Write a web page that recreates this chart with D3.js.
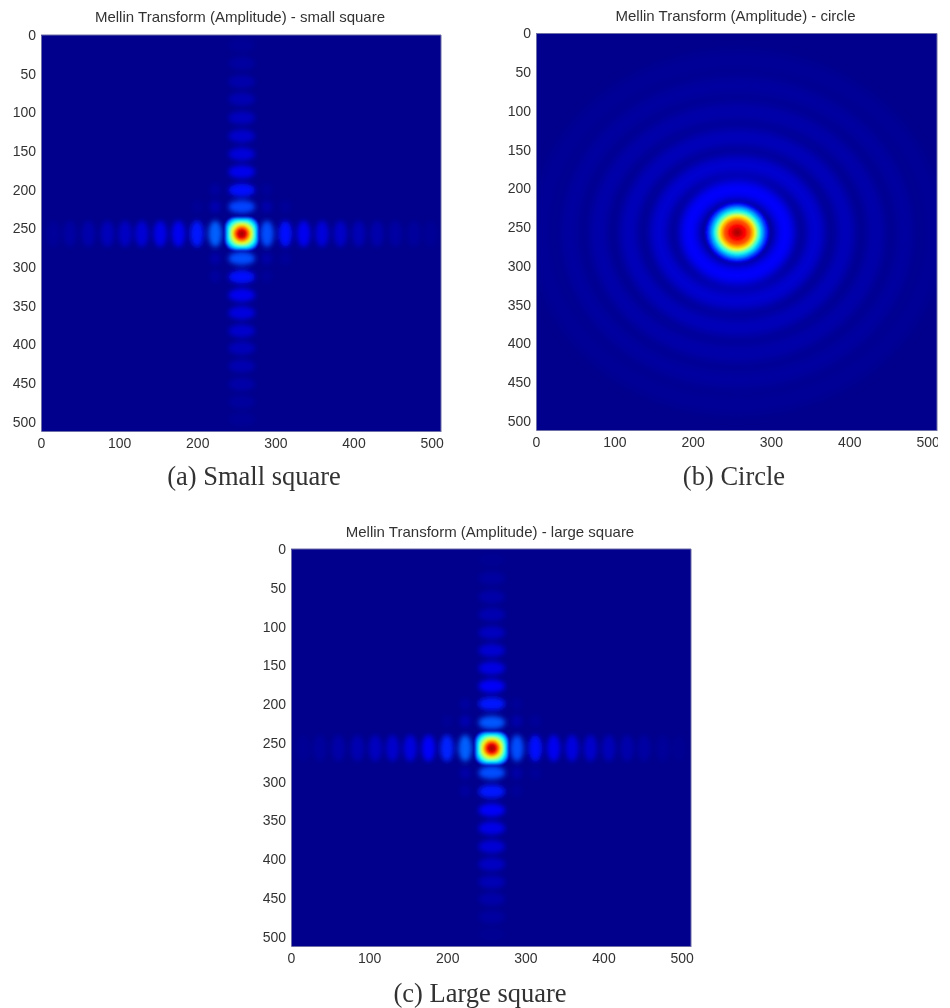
<!DOCTYPE html>
<html>
<head>
<meta charset="utf-8">
<script src="https://cdnjs.cloudflare.com/ajax/libs/d3/7.8.5/d3.min.js"></script>
<style>
    body { margin: 0; background: #fff; }
    text { fill: #333; }
</style>
</head>
<body>
<div id="graph"></div>
<script>
// axis ticks shared by the three panels
var xTicks = [0, 100, 200, 300, 400, 500];
var yTicks = [0, 50, 100, 150, 200, 250, 300, 350, 400, 450, 500];

// small square: bright lobes along the two arms (pixel index, amplitude 0-1)
var smallArmX = [15.8, 37, 60.7, 85, 107.7, 129, 152.6, 176, 199.6, 223, 289.3, 312.8, 336.3, 359.8, 383.3, 406.8, 430.3, 453.8, 477.3, 498.7];
var smallArmXAmp = [0.015, 0.025, 0.035, 0.05, 0.06, 0.08, 0.1, 0.11, 0.15, 0.22, 0.2, 0.135, 0.11, 0.085, 0.065, 0.045, 0.035, 0.025, 0.018, 0.012];
var smallArmY = [13, 36.6, 60.4, 82.8, 107, 130.7, 154, 176.8, 200.5, 222, 288.9, 312.7, 336.4, 359.3, 382.5, 404.9, 428, 451.5, 474.3, 496.8];
var smallArmYAmp = [0.012, 0.022, 0.035, 0.042, 0.055, 0.07, 0.085, 0.105, 0.135, 0.19, 0.2, 0.135, 0.11, 0.09, 0.07, 0.05, 0.04, 0.03, 0.02, 0.012];

// large square
var largeArmX = [15.8, 37, 60.7, 85, 108, 130, 152.6, 176, 199.6, 223, 289.3, 312.8, 336.3, 359.8, 383.3, 406.8, 430.3, 452, 476, 497];
var largeArmXAmp = [0.01, 0.02, 0.03, 0.04, 0.055, 0.07, 0.09, 0.12, 0.16, 0.22, 0.2, 0.14, 0.11, 0.09, 0.07, 0.05, 0.035, 0.025, 0.015, 0.008];
var largeArmY = [14, 37.5, 61.7, 84.5, 107.8, 130.7, 153.6, 176.8, 199.6, 223.8, 288.5, 312.7, 336.7, 360, 383.8, 406.6, 429.5, 451.5, 474.4, 497];
var largeArmYAmp = [0.008, 0.022, 0.032, 0.04, 0.055, 0.075, 0.095, 0.12, 0.15, 0.21, 0.2, 0.15, 0.12, 0.1, 0.08, 0.06, 0.045, 0.032, 0.022, 0.008];

// faint lobes off the arms, near the centre
var offX = [223, 289, 313, 223, 289, 313, 200, 223, 289, 223, 289];
var offY = [222, 222, 222, 289, 289, 289, 222, 200, 200, 312, 312];
var offAmp = [0.04, 0.035, 0.015, 0.03, 0.03, 0.015, 0.012, 0.022, 0.015, 0.022, 0.015];

// central peak of the squares, as nested contours
var squareLevels = [0.1, 0.18, 0.28, 0.38, 0.5, 0.6, 0.72, 0.85, 0.92, 0.96];
var squareHalf = [22, 21, 20, 18, 15.5, 13.5, 11, 8.5, 5.5, 3];
var squareCorner = [0.6, 0.6, 0.65, 0.7, 0.8, 0.9, 1, 1, 1, 1];

// circle: central peak contours and the rings around it
var circleLevels = [0.12, 0.2, 0.3, 0.4, 0.5, 0.62, 0.7, 0.8, 0.87, 0.93, 0.96];
var circleHalfX = [41, 37, 33.5, 30, 27, 24, 21.5, 18, 13, 7, 3];
var circleHalfY = [39, 35.5, 32.5, 29, 25.5, 23, 20.5, 17, 12, 6.5, 3];
var ringRadiusX = [250, 214, 177, 138.5, 100, 61.5];
var ringRadiusY = [222.5, 190, 156.5, 123, 88, 55.6];
var ringAmp = [0.012, 0.022, 0.033, 0.05, 0.075, 0.13];

function main() {

    var svg = d3.select("#graph")
        .append("svg")
        .attr("width", 950)
        .attr("height", 1008);

    var defs = svg.append("defs");
    function blur(id, std) {
        defs.append("filter").attr("id", id)
            .attr("x", "-30%").attr("y", "-30%").attr("width", "160%").attr("height", "160%")
            .attr("filterUnits", "objectBoundingBox")
            .append("feGaussianBlur").attr("stdDeviation", std);
    }
    blur("soft", 1.2);
    blur("lobe", 2.6);
    blur("ring", 5);
    blur("txt", 0.35);

    // jet colormap
    var color = d3.scaleLinear()
        .domain([0, 0.125, 0.375, 0.625, 0.875, 1])
        .range(["#00008c", "#0000ff", "#00ffff", "#ffff00", "#ff0000", "#800000"]);

    var panels = [
        { id: "a", title: "Mellin Transform (Amplitude) - small square", caption: "(a) Small square", left: 41, right: 441, top: 35, bottom: 431, titleY: 22, captionX: 254, captionY: 485,
          armX: smallArmX, armXAmp: smallArmXAmp, armY: smallArmY, armYAmp: smallArmYAmp },
        { id: "b", title: "Mellin Transform (Amplitude) - circle", caption: "(b) Circle", left: 536, right: 937, top: 33.5, bottom: 430, titleY: 21, captionX: 734, captionY: 485, circle: true },
        { id: "c", title: "Mellin Transform (Amplitude) - large square", caption: "(c) Large square", left: 291, right: 691, top: 549, bottom: 946, titleY: 537, captionX: 480, captionY: 1002,
          armX: largeArmX, armXAmp: largeArmXAmp, armY: largeArmY, armYAmp: largeArmYAmp }
    ];

    panels.forEach(function (p) {
        var x = d3.scaleLinear().domain([0, 512]).range([p.left, p.right]);
        var y = d3.scaleLinear().domain([0, 512]).range([p.top, p.bottom]);
        var cx = 257, cy = 257;

        defs.append("clipPath").attr("id", "clip-" + p.id)
            .append("rect")
            .attr("x", p.left).attr("y", p.top)
            .attr("width", p.right - p.left).attr("height", p.bottom - p.top);

        var plot = svg.append("g").attr("clip-path", "url(#clip-" + p.id + ")");

        // background of the image
        plot.append("rect")
            .attr("x", x(0)).attr("y", y(0))
            .attr("width", x(512) - x(0)).attr("height", y(512) - y(0))
            .attr("fill", color(0));

        if (p.circle) {
            plot.append("g").attr("filter", "url(#ring)")
                .selectAll("ellipse")
                .data(ringAmp)
                .enter()
                .append("ellipse")
                .attr("cx", x(cx)).attr("cy", y(cy))
                .attr("rx", function (d, i) { return x(ringRadiusX[i]) - x(0); })
                .attr("ry", function (d, i) { return y(ringRadiusY[i]) - y(0); })
                .attr("fill", "none")
                .attr("stroke", function (d) { return color(d); })
                .attr("stroke-width", 19);
            peak(plot, x, y, cx, cy, circleLevels, circleHalfX, circleHalfY, circleLevels.map(function () { return 1; }));
        } else {
            var lobes = plot.append("g").attr("filter", "url(#lobe)");

            // off-arm lobes first, arms on top
            lobes.selectAll(".off")
                .data(offAmp)
                .enter()
                .append("ellipse")
                .attr("class", "off")
                .attr("cx", function (d, i) { return x(offX[i]); })
                .attr("cy", function (d, i) { return y(offY[i]); })
                .attr("rx", x(7) - x(0))
                .attr("ry", y(8) - y(0))
                .attr("fill", function (d) { return color(d); });

            lobes.selectAll(".armx")
                .data(p.armXAmp)
                .enter()
                .append("ellipse")
                .attr("class", "armx")
                .attr("cx", function (d, i) { return x(p.armX[i]); })
                .attr("cy", y(cy))
                .attr("rx", x(8.5) - x(0))
                .attr("ry", y(17) - y(0))
                .attr("fill", function (d) { return color(d); });

            lobes.selectAll(".army")
                .data(p.armYAmp)
                .enter()
                .append("ellipse")
                .attr("class", "army")
                .attr("cx", x(cx))
                .attr("cy", function (d, i) { return y(p.armY[i]); })
                .attr("rx", x(17) - x(0))
                .attr("ry", y(8.5) - y(0))
                .attr("fill", function (d) { return color(d); });

            peak(plot, x, y, cx, cy, squareLevels, squareHalf, squareHalf, squareCorner);
        }

        // axes
        var yAxis = svg.append("g")
            .attr("transform", "translate(" + p.left + ",0)")
            .call(d3.axisLeft(y).tickValues(yTicks).tickSize(0).tickPadding(5));
        var xAxis = svg.append("g")
            .attr("transform", "translate(0," + p.bottom + ")")
            .call(d3.axisBottom(x).tickValues(xTicks).tickSize(0).tickPadding(7));
        [xAxis, yAxis].forEach(function (ax) {
            ax.select(".domain").attr("stroke", "#6f6fa8");
            ax.selectAll("text")
                .attr("filter", "url(#txt)")
                .style("font-family", "'Liberation Sans', Arial, sans-serif")
                .style("font-size", "14px");
        });

        // the right panel's last label runs off the picture crop
        if (p.circle) {
            defs.append("clipPath").attr("id", "clip-xaxis")
                .append("rect").attr("x", p.left - 20).attr("y", 0).attr("width", p.right - p.left + 21).attr("height", 1008);
            svg.append("g").attr("clip-path", "url(#clip-xaxis)").node().appendChild(xAxis.node());
        }

        // frame on the top and right
        svg.append("path")
            .attr("d", "M" + x(0) + "," + y(0) + "H" + x(512) + "V" + y(512))
            .attr("fill", "none")
            .attr("stroke", "#6f6fa8");

        svg.append("text")
            .attr("x", (p.left + p.right) / 2 - 1)
            .attr("y", p.titleY)
            .attr("text-anchor", "middle")
            .attr("filter", "url(#txt)")
            .style("font-family", "'Liberation Sans', Arial, sans-serif")
            .style("font-size", "15px")
            .text(p.title);

        svg.append("text")
            .attr("x", p.captionX)
            .attr("y", p.captionY)
            .attr("text-anchor", "middle")
            .attr("filter", "url(#txt)")
            .style("font-family", "'Liberation Serif', 'Times New Roman', serif")
            .style("font-size", "26.5px")
            .text(p.caption);
    });

    // central peak: nested rounded rectangles, outermost level first
    function peak(plot, x, y, cx, cy, levels, halfX, halfY, corner) {
        plot.append("g").attr("filter", "url(#soft)")
            .selectAll("rect")
            .data(levels)
            .enter()
            .append("rect")
            .attr("x", function (d, i) { return x(cx - halfX[i]); })
            .attr("y", function (d, i) { return y(cy - halfY[i]); })
            .attr("width", function (d, i) { return x(cx + halfX[i]) - x(cx - halfX[i]); })
            .attr("height", function (d, i) { return y(cy + halfY[i]) - y(cy - halfY[i]); })
            .attr("rx", function (d, i) { return (x(halfX[i]) - x(0)) * corner[i]; })
            .attr("ry", function (d, i) { return (y(halfY[i]) - y(0)) * corner[i]; })
            .attr("fill", function (d) { return color(d); });
    }
}
window.addEventListener('load', main);
</script>
</body>
</html>
